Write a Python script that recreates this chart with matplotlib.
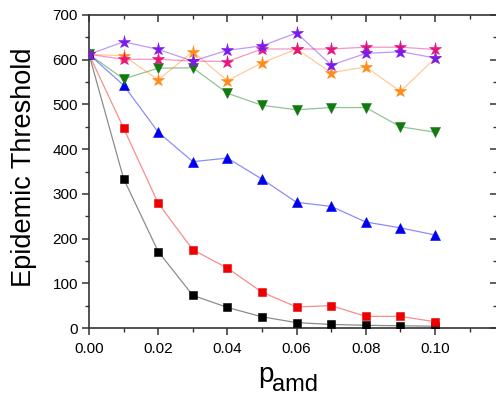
import matplotlib
matplotlib.use("Agg")
import matplotlib.pyplot as plt
from matplotlib.ticker import MultipleLocator, FormatStrFormatter

plt.rcParams['font.family'] = ['Liberation Sans', 'DejaVu Sans']

p_amd = [0.00, 0.01, 0.02, 0.03, 0.04, 0.05, 0.06, 0.07, 0.08, 0.09, 0.10]
black_sq = [612, 334, 171, 73, 46, 25, 12, 8, 6, 5, 4]
red_sq = [612, 447, 279, 175, 134, 80, 47, 50, 26, 26, 14]
blue_tri = [612, 543, 438, 372, 380, 333, 281, 272, 237, 224, 208]
green_tri = [612, 557, 581, 582, 525, 498, 488, 493, 493, 450, 438]
orange_star = [612, 609, 555, 618, 553, 593, 624, 571, 584, 529, 603]
pink_star = [612, 601, 601, 597, 596, 624, 624, 624, 628, 628, 623]
purple_star = [612, 640, 623, 597, 621, 631, 660, 588, 614, 618, 604]

series = [
    (black_sq, '#000000', 's', 6),
    (red_sq, '#ee0000', 's', 6),
    (blue_tri, '#0000ee', '^', 7.5),
    (green_tri, '#107a10', 'v', 7.5),
    (orange_star, '#ff8c1a', '*', 9.5),
    (pink_star, '#e8157e', '*', 9.5),
    (purple_star, '#7a1aee', '*', 9.5),
]

fig = plt.figure(figsize=(4.96, 3.97), dpi=100)
ax = fig.add_axes([89/496, 69/397, 408/496, 313/397])

for vals, col, mk, ms in series:
    ax.plot(p_amd, vals, '-', color=col, alpha=0.45, lw=0.9, zorder=2)
    ax.plot(p_amd, vals, linestyle='none', marker=mk, color=col, ms=ms,
            markeredgecolor=col, markeredgewidth=0.4, zorder=3)

ax.set_xlim(0, 408/3460)
ax.set_ylim(0, 700)
ax.xaxis.set_major_locator(MultipleLocator(0.02))
ax.xaxis.set_minor_locator(MultipleLocator(0.01))
ax.xaxis.set_major_formatter(FormatStrFormatter('%.2f'))
ax.yaxis.set_major_locator(MultipleLocator(100))
ax.yaxis.set_minor_locator(MultipleLocator(50))

for s in ax.spines.values():
    s.set_linewidth(1.2)
    s.set_color('#333333')

ax.tick_params(axis='both', which='major', direction='out', length=5, width=1.1,
               labelsize=11, color='#333333')
ax.tick_params(axis='both', which='minor', direction='out', length=3, width=1.0,
               color='#333333')
ax.tick_params(axis='x', pad=5)
ax.tick_params(axis='y', pad=3)

# mirrored ticks on top and right pointing inward
secx = ax.secondary_xaxis('top')
secx.xaxis.set_major_locator(MultipleLocator(0.02))
secx.xaxis.set_minor_locator(MultipleLocator(0.01))
secx.tick_params(axis='x', which='major', direction='in', length=5, width=1.1,
                 labeltop=False, color='#333333')
secx.tick_params(axis='x', which='minor', direction='in', length=3, width=1.0,
                 color='#333333')
secy = ax.secondary_yaxis('right')
secy.yaxis.set_major_locator(MultipleLocator(100))
secy.yaxis.set_minor_locator(MultipleLocator(50))
secy.tick_params(axis='y', which='major', direction='in', length=5, width=1.1,
                 labelright=False, color='#333333')
secy.tick_params(axis='y', which='minor', direction='in', length=3, width=1.0,
                 color='#333333')
for sp in list(secx.spines.values()) + list(secy.spines.values()):
    sp.set_visible(False)

fig.text(24/496, 1 - 167/397, 'Epidemic Threshold', rotation=90, fontsize=19.5,
         ha='center', va='center')
fig.text(258/496, 1 - 382/397, 'p', fontsize=20, ha='left', va='baseline')
fig.text(272/496, 1 - 391/397, 'amd', fontsize=17, ha='left', va='baseline')

fig.savefig('out.png', dpi=100)
